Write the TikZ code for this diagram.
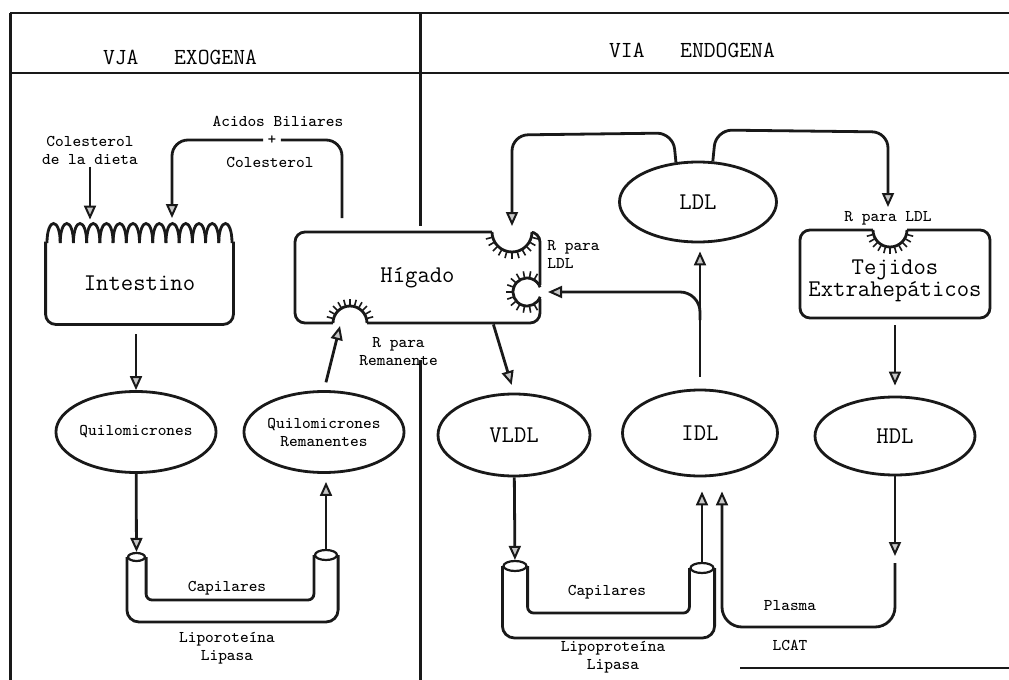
\documentclass[tikz,border=0pt]{standalone}
\usepackage{tikz}
\usetikzlibrary{shapes.geometric, arrows.meta, positioning, calc}
\definecolor{Ink}{RGB}{25, 25, 25}

\begin{document}
\begin{tikzpicture}[x=0.5pt, y=-0.5pt,
                    particle/.style={ellipse, draw=Ink, line width=1.4pt, inner sep=0pt, align=center, font=\ttfamily\fontsize{12}{14}\selectfont},
                    organ/.style={rectangle, rounded corners=5pt, draw=Ink, line width=1.4pt, align=center, font=\ttfamily\fontsize{12}{11}\selectfont},
                    note/.style={inner sep=1pt, align=center, font=\ttfamily\fontsize{8.2}{9}\selectfont},
                    head/.style={font=\ttfamily\fontsize{11.5}{14}\selectfont},
                    tubeend/.style={ellipse, draw=Ink, line width=1.1pt, fill=white, inner sep=0pt},
                    flow/.style={draw=Ink, line width=1.4pt},
                    arr/.style={-{Triangle[length=7pt, width=6pt, fill=gray!45, line width=1pt]}},
                    hair/.style={draw=Ink, line width=0.8pt},
                    rule/.style={draw=Ink, line width=1pt},
                    wall/.style={draw=Ink, line width=1.5pt}
                ]
                    \useasboundingbox (0,0) rectangle (1009,680);

                    \draw[rule] (10,13) -- (1009,13);
                    \draw[rule] (10,73) -- (1009,73);
                    \draw[rule] (740,668) -- (1009,668);
                    \draw[wall] (10,13) -- (10,680);
                    \draw[wall] (420,13) -- (420,226);
                    \draw[wall] (420,360) -- (420,680);

                    \node[head] (exo) at (180,57) {VJA\ \ \ EXOGENA};
                    \node[head] (endo) at (692,50) {VIA\ \ \ ENDOGENA};

                    \node[organ, draw=none, minimum width=92.5pt, minimum height=40pt] (intest) at (139.5,283) {Intestino};
                    \node[organ, minimum width=122.5pt, minimum height=45.5pt] (higado) at (417.5,277.5) {H\'{\i}gado};
                    \node[organ, minimum width=95pt, minimum height=44pt] (tejidos) at (895,274) {};

                    \node[particle, minimum width=76pt, minimum height=40.5pt, font=\ttfamily\fontsize{8.2}{9}\selectfont] (quilo) at (136,432) {Quilomicrones};
                    \node[particle, minimum width=74pt, minimum height=40.5pt, font=\ttfamily\fontsize{8.2}{9}\selectfont] (reman) at (324,432) {Quilomicrones\\Remanentes};
                    \node[particle, minimum width=76pt, minimum height=41pt] (vldl) at (514,435) {VLDL};
                    \node[particle, minimum width=77.5pt, minimum height=43pt] (idl) at (700,433) {IDL};
                    \node[particle, minimum width=80pt, minimum height=39pt] (hdl) at (895,436) {HDL};
                    \node[particle, minimum width=78.5pt, minimum height=40pt] (ldl) at (698,202) {LDL};

                    \node[tubeend, minimum width=8.5pt, minimum height=4pt] (capLa) at (136.5,557) {};
                    \node[tubeend, minimum width=11pt, minimum height=5pt] (capRa) at (326,555) {};
                    \node[tubeend, minimum width=11.5pt, minimum height=5pt] (capLb) at (515,566) {};
                    \node[tubeend, minimum width=11.5pt, minimum height=5pt] (capRb) at (702,568) {};

                    \coordinate (bilestart) at (342,218);
                    \coordinate (bileend) at (172,218);
                    \coordinate (ldlrec) at (512,226);
                    \coordinate (tejrec) at (888,207);
                    \coordinate (higrec) at (548,292);
                    \coordinate (remrec) at (340,326);
                    \coordinate (branch) at (700,320);
                    \coordinate (hdlend) at (895,556);
                    \coordinate (plasmastart) at (895,563);
                    \coordinate (plasmaturn) at (722,627);

                    \draw[flow, rounded corners=5pt] (intest.north west) -- (intest.south west) -- (intest.south east) -- (intest.north east);
                    \foreach \i in {0,...,13}
                        \draw[flow] ({47+\i*185/14},243) .. controls ({47+\i*185/14},217) and ({47+(\i+1)*185/14},217) .. ({47+(\i+1)*185/14},243);

                    \fill[white] (512,232) circle[radius=20];
                    \draw[flow] (492,232) arc[start angle=180, end angle=0, radius=20];
                    \foreach \a in {15,30,...,165}
                        \draw[hair] (512,232) ++(\a:21) -- ++(\a:6);
                    \fill[white] (537,285) rectangle (543,299);
                    \draw[flow] (527,292) ++(20:14) arc[start angle=20, end angle=340, radius=14];
                    \foreach \a in {60,80,...,300}
                        \draw[hair] (527,292) ++(\a:15) -- ++(\a:6);
                    \fill[white] (350,323) circle[radius=17];
                    \draw[flow] (333,323) arc[start angle=180, end angle=360, radius=17];
                    \foreach \a in {195,210,...,345}
                        \draw[hair] (350,323) ++(\a:18) -- ++(\a:6);
                    \fill[white] (890,230) circle[radius=17];
                    \draw[flow] (873,230) arc[start angle=180, end angle=0, radius=17];
                    \foreach \a in {15,30,...,165}
                        \draw[hair] (890,230) ++(\a:18) -- ++(\a:6);

                    \node[organ, draw=none] (tejtext) at (895,281) {Tejidos\\Extrahep\'aticos};
                    \node[note] (dieta) at (90,150) {Colesterol\\de la dieta};
                    \node[note] (acidos) at (278,121) {Acidos Biliares};
                    \node[note, inner sep=2pt] (plus) at (272,140) {+};
                    \node[note] (colest) at (270,162) {Colesterol};
                    \node[note, anchor=west] (rrem) at (357,352) {R para\\Remanente};
                    \node[note, anchor=west, align=left] (rldl) at (545,254) {R para\\LDL};
                    \node[note] (rtej) at (888,218) {R para LDL};
                    \node[note] (capA) at (227,588) {Capilares};
                    \node[note] (lipA) at (227,648) {Liporote\'{\i}na\\Lipasa};
                    \node[note] (capB) at (607,592) {Capilares};
                    \node[note] (lipB) at (613,657) {Lipoprote\'{\i}na\\Lipasa};
                    \node[note] (plasma) at (790,606) {Plasma};
                    \node[note] (lcat) at (790,645) {LCAT};

                    \draw[flow, rounded corners=6pt] (capLa.west) -- (capLa.west |- 0,622) -- (capRa.east |- 0,622) -- (capRa.east);
                    \draw[flow, rounded corners=3pt] (capLa.east) -- (capLa.east |- 0,600) -- (capRa.west |- 0,600) -- (capRa.west);
                    \draw[flow, rounded corners=6pt] (capLb.west) -- (capLb.west |- 0,638) -- (capRb.east |- 0,638) -- (capRb.east);
                    \draw[flow, rounded corners=3pt] (capLb.east) -- (capLb.east |- 0,613) -- (capRb.west |- 0,613) -- (capRb.west);

                    \draw[flow, arr, shorten >=11pt] (dieta) -- (dieta |- intest.north);
                    \draw[flow, rounded corners=8pt] (bilestart) |- (plus);
                    \draw[flow, arr, rounded corners=8pt] (plus) -| (bileend);
                    \draw[flow, arr, shorten <=5pt] (quilo.north |- intest.south) -- (quilo.north);
                    \draw[flow, arr] (quilo) -- (capLa);
                    \draw[flow, arr, shorten >=4pt] (capRa) -- (capRa |- reman.south);
                    \draw[flow, arr, shorten <=4pt] (reman.north) -- (remrec);

                    \draw[flow, arr, shorten >=4pt] ([xshift=-24pt]higado.south east) -- (vldl.north);
                    \draw[flow, arr] (vldl) -- (capLb);
                    \draw[flow, arr, shorten >=7pt] (capRb) -- (capRb |- idl.south);
                    \draw[flow, arr, shorten <=6pt, shorten >=4pt] (idl.north) -- (idl.north |- ldl.south);
                    \draw[flow, arr, rounded corners=10pt] (branch) |- (higrec);
                    \draw[flow, arr, rounded corners=8pt] (ldl.119) -- (673,133) -- (512,135) -- (ldlrec);
                    \draw[flow, arr, rounded corners=8pt] (ldl.70) -- (716,130) -- (888,132) -- (tejrec);
                    \draw[flow, arr, shorten <=3pt, shorten >=5pt] (tejidos) -- (hdl);
                    \draw[flow, arr] (hdl) -- (hdlend);
                    \draw[flow, arr, rounded corners=10pt, shorten >=7pt] (plasmastart) |- (plasmaturn) -- (plasmaturn |- idl.south);
                \end{tikzpicture}
\end{document}
